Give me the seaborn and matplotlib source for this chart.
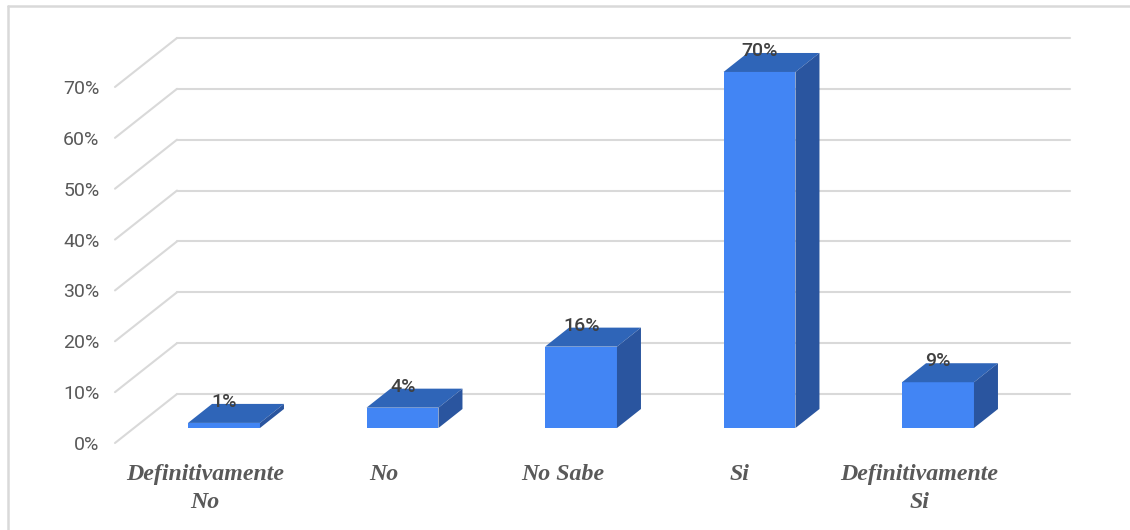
import matplotlib
matplotlib.use("Agg")
import matplotlib.pyplot as plt
import pandas as pd
import seaborn as sns
from matplotlib.patches import Polygon

categories = ["Definitivamente\nNo", "No", "No Sabe", "Si", "Definitivamente\nSi"]
values = [1, 4, 16, 70, 9]
ticks = [0, 10, 20, 30, 40, 50, 60, 70]

df = pd.DataFrame({"respuesta": categories, "pct": values})

# pixel scales of the picture
PX_X = 178.5
PX_Y = 5.086
W, H = 1130, 530

FRONT = "#4285f4"
TOP = "#2f65b8"
SIDE = "#2a559f"
GRID = "#d9d9d9"

sns.set_theme(style="white")

fig = plt.figure(figsize=(W / 100, H / 100), dpi=100)
ax = fig.add_axes([0, 0, 1, 1])

sns.barplot(data=df, x="respuesta", y="pct", color=FRONT, saturation=1, width=0.403,
            edgecolor=FRONT, linewidth=0, ax=ax, zorder=3)

# x pixel 224 is the first category, y pixel 428 is the 0 of the bars
ax.set_xlim(-224 / PX_X, (W - 224) / PX_X)
ax.set_ylim((428 - H) / PX_Y, 428 / PX_Y)
ax.axis("off")

# depth of the fake 3d, in data units
bar_dx, bar_dy = 24 / PX_X, 19 / PX_Y
wall_x0, wall_x1 = (115 - 224) / PX_X, (177 - 224) / PX_X
wall_right = (1070 - 224) / PX_X
floor_front = -15 / PX_Y
floor_back = 34 / PX_Y

for t in ticks:
    ax.plot([wall_x0, wall_x1], [t + floor_front, t + floor_back], color=GRID, lw=1.5, zorder=1)
    ax.plot([wall_x1, wall_right], [t + floor_back, t + floor_back], color=GRID, lw=1.5, zorder=1)
    ax.text((99.5 - 224) / PX_X, t + floor_front + 1 / PX_Y - 3 / PX_Y, f"{t}%", ha="right", va="center",
            fontsize=14, color="#595959", family="Roboto")

for bar, v in zip(ax.patches, values):
    x0 = bar.get_x()
    x1 = x0 + bar.get_width()
    ax.add_patch(Polygon([(x0, v), (x1, v), (x1 + bar_dx, v + bar_dy), (x0 + bar_dx, v + bar_dy)],
                         color=TOP, lw=0, zorder=3))
    ax.add_patch(Polygon([(x1, 0), (x1 + bar_dx, bar_dy), (x1 + bar_dx, v + bar_dy), (x1, v)],
                         color=SIDE, lw=0, zorder=3))
    ax.text(x0 + bar.get_width() / 2 + 0.002, v + bar_dy + 2 / PX_Y, f"{v}%", ha="center", va="center",
            fontsize=14, color="#404040", family="Roboto", weight="medium", zorder=4)

label_px = [205, 384, 563, 740, 919]
for xpos, c in zip(label_px, categories):
    ax.text((xpos - 224) / PX_X, (428 - 464) / PX_Y, c, ha="center", va="top",
            fontsize=17.2, color="#595959", family="Liberation Serif", style="italic", weight="bold",
            linespacing=1.42)

# thin frame around the chart, cut off by the screenshot on two sides
fig.add_artist(plt.Line2D([8 / W, 8 / W], [0, 1 - 6 / H], color=GRID, lw=1.8))
fig.add_artist(plt.Line2D([8 / W, 1], [1 - 6 / H, 1 - 6 / H], color=GRID, lw=1.8))

fig.savefig("out.png", dpi=100)
